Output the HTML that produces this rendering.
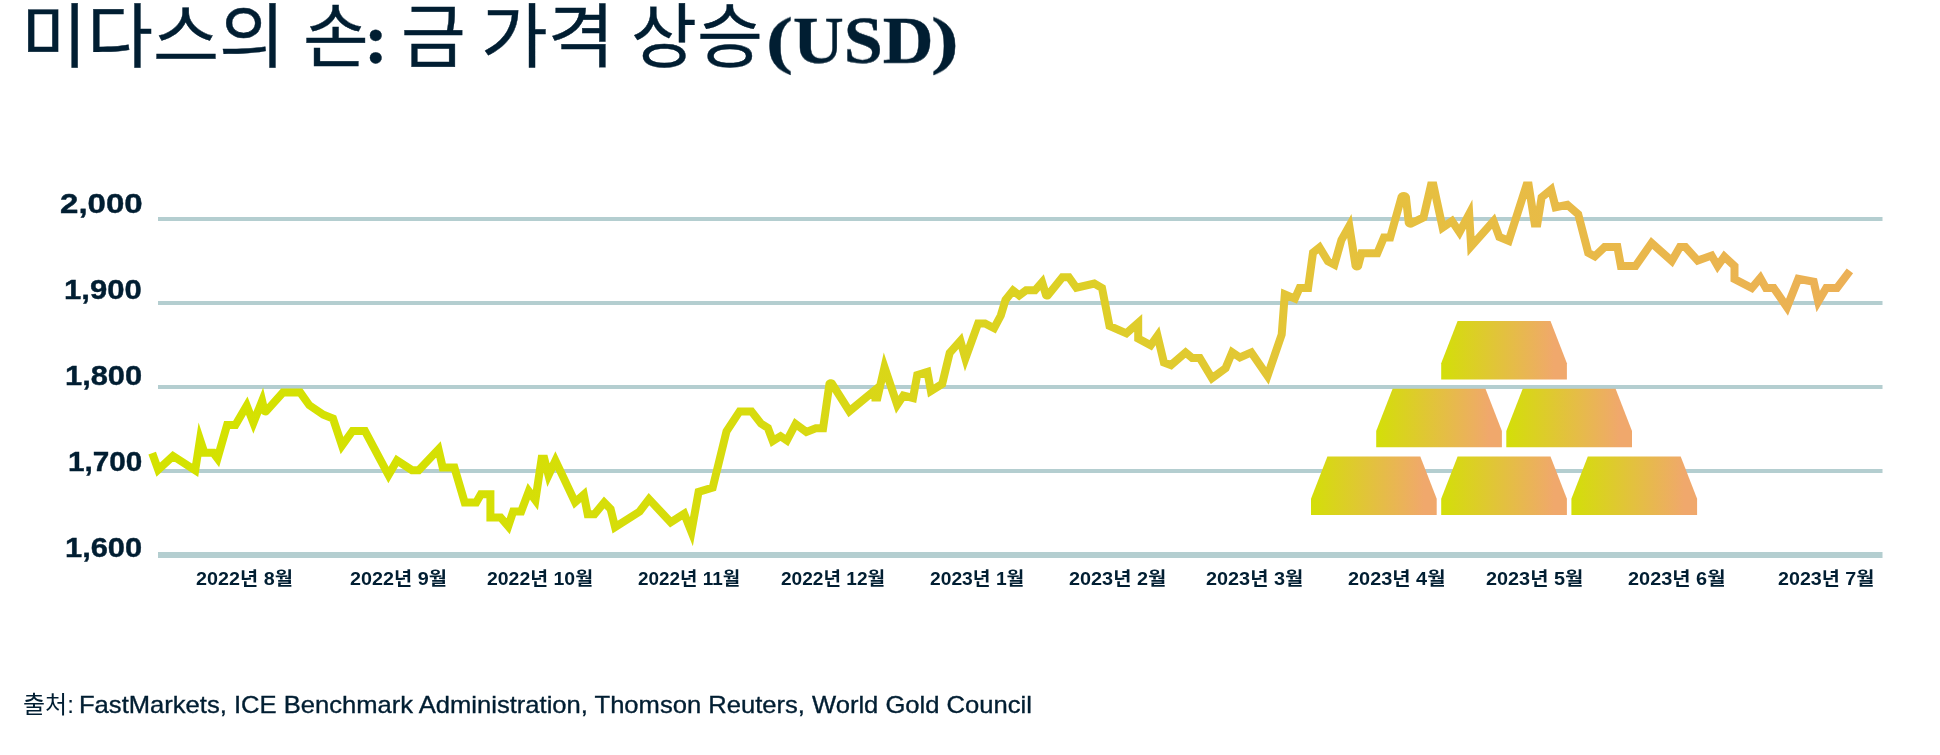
<!DOCTYPE html>
<html lang="ko">
<head>
<meta charset="utf-8">
<title>미다스의 손: 금 가격 상승(USD)</title>
<style>
html,body{margin:0;padding:0;background:#fff;}
body{width:1940px;height:755px;position:relative;overflow:hidden;color:#011e32;
 font-family:"Liberation Sans","Noto Sans CJK KR",sans-serif;}
.t{position:absolute;white-space:nowrap;transform-origin:0 50%;will-change:transform;}
svg{position:absolute;left:0;top:0;}
</style>
</head>
<body>

<svg width="1940" height="755" viewBox="0 0 1940 755">
 <defs>
  <linearGradient id="lg" gradientUnits="userSpaceOnUse" x1="150" y1="0" x2="1860" y2="0">
   <stop offset="0" stop-color="#d4e200"/>
   <stop offset="0.18" stop-color="#d5e004"/>
   <stop offset="0.35" stop-color="#d7db0e"/>
   <stop offset="0.535" stop-color="#ddd025"/>
   <stop offset="0.7" stop-color="#e5c23c"/>
   <stop offset="1" stop-color="#ecb057"/>
  </linearGradient>
  <linearGradient id="bg" x1="0" y1="0" x2="1" y2="0">
   <stop offset="0" stop-color="#d3df08"/>
   <stop offset="0.9" stop-color="#f0a86c"/>
   <stop offset="1" stop-color="#f0a86c"/>
  </linearGradient>
  <path id="bar" d="M16.4 0 H109.3 L125.7 42.3 V58.5 H0 V42.3 Z" fill="url(#bg)"/>
 </defs>
 <g id="grid" fill="#b4ced0">
  <rect x="158" y="217" width="1724.5" height="4"/>
  <rect x="158" y="301" width="1724.5" height="4"/>
  <rect x="158" y="385" width="1724.5" height="4"/>
  <rect x="158" y="469" width="1724.5" height="4"/>
  <rect x="158" y="552" width="1724.5" height="6"/>
 </g>
 <g id="bars">
  <use href="#bar" x="1441.2" y="321"/>
  <use href="#bar" x="1376.2" y="388.7"/>
  <use href="#bar" x="1506.3" y="388.7"/>
  <use href="#bar" x="1311" y="456.4"/>
  <use href="#bar" x="1441.2" y="456.4"/>
  <use href="#bar" x="1571.4" y="456.4"/>
 </g>
 <polyline id="line" fill="none" stroke="url(#lg)" stroke-width="8" stroke-linejoin="miter" stroke-miterlimit="10"
  points="152.20,453.10 158.20,469.80 173.00,456.00 195.20,470.40 200.00,439.50 204.40,452.80 213.30,452.80 217.50,458.40 227.10,425.00 235.40,425.00 246.75,405.60 253.40,422.80 262.10,400.80 264.40,410.76 264.60,411.05 264.87,411.27 265.20,411.40 265.55,411.43 265.89,411.36 266.20,411.19 282.90,392.60 300.30,392.60 309.30,405.20 323.40,414.70 333.00,418.60 342.00,445.50 352.50,431.00 365.00,431.00 388.50,475.10 397.00,460.50 412.00,470.20 418.70,470.20 438.50,449.30 442.70,467.50 454.40,467.50 464.70,502.50 476.20,502.50 480.90,494.20 490.40,494.20 490.40,517.50 500.60,517.50 508.20,526.30 513.20,511.40 521.20,511.40 528.80,491.30 535.40,500.20 541.60,458.80 544.30,458.80 548.50,475.20 555.40,460.60 575.10,502.20 583.80,494.50 587.70,514.20 594.50,514.20 604.20,502.50 610.60,509.00 615.10,527.20 639.60,511.50 649.00,499.10 670.70,522.30 684.20,513.70 691.40,531.80 698.60,491.80 712.70,487.60 726.50,431.40 739.60,411.40 751.50,411.40 761.00,423.60 767.90,428.00 772.80,441.00 780.60,436.20 786.90,440.50 795.60,424.00 806.40,432.00 815.80,428.30 823.10,428.30 829.41,384.15 829.66,383.71 830.04,383.39 830.50,383.20 831.00,383.18 831.48,383.32 831.88,383.61 849.40,411.20 875.50,389.70 875.50,397.50 877.50,397.50 884.50,367.20 897.20,404.80 903.40,395.60 913.00,398.00 917.20,375.00 927.40,371.90 930.90,391.00 942.20,384.00 949.70,352.90 960.40,340.90 965.40,358.50 978.10,323.40 985.00,323.40 994.10,328.20 1000.80,315.50 1005.50,300.00 1013.00,290.50 1019.20,295.40 1026.10,290.30 1035.00,290.30 1042.10,282.20 1046.07,295.01 1046.28,295.28 1046.57,295.49 1046.90,295.60 1047.25,295.61 1047.59,295.52 1047.89,295.33 1062.40,277.20 1068.90,277.20 1076.40,287.70 1094.30,283.60 1102.00,288.00 1109.50,326.00 1126.40,333.30 1138.20,322.80 1138.20,338.50 1150.70,345.30 1157.50,335.70 1163.90,362.40 1171.00,365.10 1185.60,352.40 1192.20,358.00 1199.80,358.00 1212.00,378.20 1225.60,368.10 1232.20,352.30 1239.90,357.50 1251.30,352.40 1267.50,375.90 1281.70,334.50 1284.80,294.40 1294.90,298.60 1299.60,288.00 1308.10,288.00 1313.00,252.60 1319.50,247.40 1327.90,261.30 1334.40,264.70 1341.40,240.00 1349.30,226.00 1355.53,265.58 1355.83,266.04 1356.27,266.36 1356.80,266.50 1357.34,266.44 1357.83,266.20 1358.20,265.79 1361.50,253.30 1377.30,253.30 1383.90,237.50 1390.20,237.50 1401.50,197.24 1402.10,196.55 1402.90,196.12 1403.80,196.00 1404.69,196.21 1405.43,196.73 1405.95,197.48 1408.73,222.52 1408.94,222.91 1409.23,223.25 1409.60,223.50 1410.02,223.65 1410.46,223.70 1410.91,223.63 1423.50,217.40 1430.90,185.60 1433.50,185.60 1442.60,227.60 1452.00,221.10 1459.50,232.20 1469.20,214.00 1471.10,246.30 1493.50,221.10 1499.30,236.90 1508.70,240.80 1526.40,185.60 1528.70,185.60 1534.70,223.60 1537.40,223.60 1541.60,197.30 1551.10,189.60 1555.60,207.20 1567.30,204.80 1578.20,214.30 1588.20,252.80 1594.80,256.40 1604.60,247.00 1617.40,247.00 1620.90,266.00 1635.50,266.00 1651.60,243.00 1671.80,261.00 1679.90,247.00 1685.40,247.00 1697.70,260.60 1711.60,255.60 1717.60,265.90 1724.30,256.60 1734.50,266.00 1734.50,279.10 1751.80,288.00 1760.30,278.00 1765.90,287.90 1773.70,287.90 1787.00,307.20 1798.30,278.80 1813.70,281.80 1818.20,301.60 1826.20,287.90 1837.00,287.90 1849.90,270.80"/>
</svg>

<div id="tw1" class="t" style="font:400 70px/104px 'Noto Sans CJK KR','Liberation Sans',sans-serif;-webkit-text-stroke:0.4px #011e32;left:20.83px;top:-19.90px;transform:scaleX(1.0249)">미다스의</div>
<div id="tw2" class="t" style="font:400 70px/104px 'Noto Sans CJK KR','Liberation Sans',sans-serif;-webkit-text-stroke:0.4px #011e32;left:302.89px;top:-19.90px;transform:scaleX(1.0186)">손</div>
<div id="tw3" class="t" style="font:700 70px/104px 'Liberation Serif','Noto Serif CJK SC',serif;-webkit-text-stroke:0.4px #011e32;left:363.52px;top:-12.30px;transform:scaleX(1.0283)">:</div>
<div id="tw4" class="t" style="font:400 70px/104px 'Noto Sans CJK KR','Liberation Sans',sans-serif;-webkit-text-stroke:0.4px #011e32;left:400.97px;top:-19.90px;transform:scaleX(1.0042)">금</div>
<div id="tw5" class="t" style="font:400 70px/104px 'Noto Sans CJK KR','Liberation Sans',sans-serif;-webkit-text-stroke:0.4px #011e32;left:481.45px;top:-19.90px;transform:scaleX(1.0363)">가격</div>
<div id="tw6" class="t" style="font:400 70px/104px 'Noto Sans CJK KR','Liberation Sans',sans-serif;-webkit-text-stroke:0.4px #011e32;left:630.92px;top:-19.90px;transform:scaleX(1.0248)">상승</div>
<div id="tw7a" class="t" style="font:700 70px/104px 'Liberation Serif','Noto Serif CJK SC',serif;-webkit-text-stroke:0.4px #011e32;left:765.88px;top:-7.07px;transform-origin:0 0;transform:scale(1.1595,0.9112)">(</div>
<div id="tw7" class="t" style="font:700 68.7px/104px 'Liberation Serif','Noto Serif CJK SC',serif;-webkit-text-stroke:0.4px #011e32;left:792.89px;top:-12.07px;transform-origin:0 0;transform:scale(1.0231,0.9970)">USD</div>
<div id="tw7b" class="t" style="font:700 70px/104px 'Liberation Serif','Noto Serif CJK SC',serif;-webkit-text-stroke:0.4px #011e32;left:931.03px;top:-7.21px;transform-origin:0 0;transform:scale(1.1911,0.9127)">)</div>
<div id="y1" class="t" style="font:700 27px/30px 'Liberation Sans','Noto Sans CJK KR',sans-serif;-webkit-text-stroke:0.4px #011e32;left:59.98px;top:189.00px;transform:scaleX(1.2250)">2,000</div>
<div id="y2" class="t" style="font:700 27px/30px 'Liberation Sans','Noto Sans CJK KR',sans-serif;-webkit-text-stroke:0.4px #011e32;left:63.89px;top:275.00px;transform:scaleX(1.1504)">1,900</div>
<div id="y3" class="t" style="font:700 27px/30px 'Liberation Sans','Noto Sans CJK KR',sans-serif;-webkit-text-stroke:0.4px #011e32;left:64.89px;top:361.00px;transform:scaleX(1.1414)">1,800</div>
<div id="y4" class="t" style="font:700 27px/30px 'Liberation Sans','Noto Sans CJK KR',sans-serif;-webkit-text-stroke:0.4px #011e32;left:67.58px;top:447.00px;transform:scaleX(1.1005)">1,700</div>
<div id="y5" class="t" style="font:700 27px/30px 'Liberation Sans','Noto Sans CJK KR',sans-serif;-webkit-text-stroke:0.4px #011e32;left:64.89px;top:533.00px;transform:scaleX(1.1414)">1,600</div>
<div id="x1" class="t" style="font:700 18.5px/24px 'Liberation Sans','Noto Sans CJK KR',sans-serif;left:195.52px;top:567.10px;transform:scaleX(1.0684)">2022년 8월</div>
<div id="x2" class="t" style="font:700 18.5px/24px 'Liberation Sans','Noto Sans CJK KR',sans-serif;left:349.52px;top:567.10px;transform:scaleX(1.0684)">2022년 9월</div>
<div id="x3" class="t" style="font:700 18.5px/24px 'Liberation Sans','Noto Sans CJK KR',sans-serif;left:486.56px;top:567.10px;transform:scaleX(1.0508)">2022년 10월</div>
<div id="x4" class="t" style="font:700 18.5px/24px 'Liberation Sans','Noto Sans CJK KR',sans-serif;left:637.59px;top:567.10px;transform:scaleX(1.0219)">2022년 11월</div>
<div id="x5" class="t" style="font:700 18.5px/24px 'Liberation Sans','Noto Sans CJK KR',sans-serif;left:780.95px;top:567.10px;transform:scaleX(1.0321)">2022년 12월</div>
<div id="x6" class="t" style="font:700 18.5px/24px 'Liberation Sans','Noto Sans CJK KR',sans-serif;left:929.96px;top:567.10px;transform:scaleX(1.0406)">2023년 1월</div>
<div id="x7" class="t" style="font:700 18.5px/24px 'Liberation Sans','Noto Sans CJK KR',sans-serif;left:1068.52px;top:567.10px;transform:scaleX(1.0729)">2023년 2월</div>
<div id="x8" class="t" style="font:700 18.5px/24px 'Liberation Sans','Noto Sans CJK KR',sans-serif;left:1205.54px;top:567.10px;transform:scaleX(1.0729)">2023년 3월</div>
<div id="x9" class="t" style="font:700 18.5px/24px 'Liberation Sans','Noto Sans CJK KR',sans-serif;left:1347.92px;top:567.10px;transform:scaleX(1.0754)">2023년 4월</div>
<div id="x10" class="t" style="font:700 18.5px/24px 'Liberation Sans','Noto Sans CJK KR',sans-serif;left:1486.12px;top:567.10px;transform:scaleX(1.0729)">2023년 5월</div>
<div id="x11" class="t" style="font:700 18.5px/24px 'Liberation Sans','Noto Sans CJK KR',sans-serif;left:1627.91px;top:567.10px;transform:scaleX(1.0754)">2023년 6월</div>
<div id="x12" class="t" style="font:700 18.5px/24px 'Liberation Sans','Noto Sans CJK KR',sans-serif;left:1777.55px;top:567.10px;transform:scaleX(1.0636)">2023년 7월</div>
<div id="src1" class="t" style="font:400 24px/30px 'Liberation Sans','Noto Sans CJK KR',sans-serif;left:23.49px;top:689.70px;transform:scaleX(0.9941)">출처:</div>
<div id="src2" class="t" style="font:400 24px/30px 'Liberation Sans','Noto Sans CJK KR',sans-serif;-webkit-text-stroke:0.35px #011e32;left:79.37px;top:689.70px;transform:scaleX(1.0657)">FastMarkets, ICE Benchmark Administration, Thomson Reuters, World Gold Council</div>
</body>
</html>
